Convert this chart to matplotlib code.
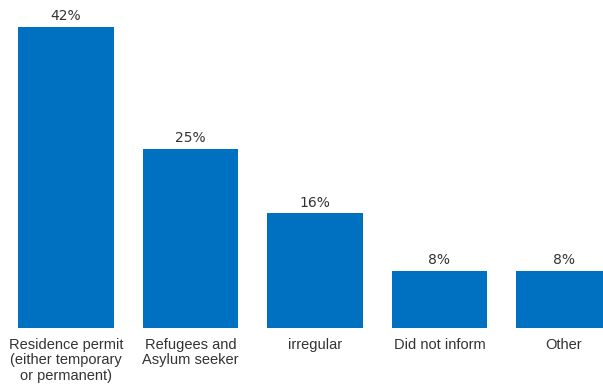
import matplotlib.pyplot as plt

categories = ["Residence permit\n(either temporary\nor permanent)",
              "Refugees and\nAsylum seeker",
              "irregular",
              "Did not inform",
              "Other"]
values = [42, 25, 16, 8, 8]
labels = ["42%", "25%", "16%", "8%", "8%"]

fig = plt.figure(figsize=(6.03, 3.85), dpi=100)
ax = fig.add_axes([0, 57 / 385, 1, 328 / 385])

x = list(range(len(values)))
bars = ax.bar(x, values, width=0.77, color="#0070C0")

for xi, v, lab in zip(x, values, labels):
    ax.text(xi, v + 0.5, lab, ha="center", va="bottom",
            fontsize=10, color="#333333", family="DejaVu Sans")

ax.set_xlim(-66 / 124.5, (603 - 66) / 124.5)
ax.set_ylim(0, 45.75)
ax.set_xticks(x)
ax.set_xticklabels(categories, fontsize=10.5, color="#333333",
                   family="Liberation Sans", linespacing=1.15)
ax.tick_params(axis="x", length=0, pad=7)
ax.set_yticks([])
for s in ax.spines.values():
    s.set_visible(False)

fig.savefig("out.png", dpi=100)
